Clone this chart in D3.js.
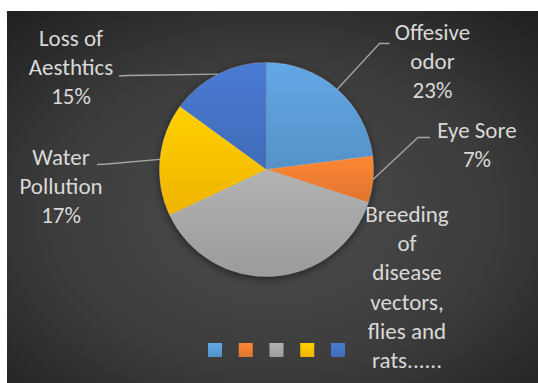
<!DOCTYPE html>
<html>
<head>
<meta charset="utf-8">
<script src="https://cdn.jsdelivr.net/npm/d3@7"></script>
<style>
  html, body { margin: 0; padding: 0; background: #ffffff; }
  svg { display: block; }
</style>
</head>
<body>
<svg id="chart" width="538" height="383"></svg>
<script>
// ---- data ----
const categories = ["Offesive odor", "Eye Sore", "Breeding of disease vectors, flies and rats......", "Water Pollution", "Loss of Aesthtics"];
const values = [23, 7, 38, 17, 15];
const colors = ["#5B9BD5", "#ED7D31", "#A5A5A5", "#FFC000", "#4472C4"];

// ---- layout (positions/sizes only) ----
const W = 538, H = 383;
const frame = { x: 7, y: 11 };
const cx = 266.5, cy = 169.5, R = 107;
const fontSize = 23, lineH = 29.2;
// label anchor = centre x / first baseline, relative to pie centre; words per line; leader end offsets from anchor
const labelLayout = [
  { dx: 166, dy: -129.5, wrap: [1, 1], pct: true, leader: [[-53, 3.5], [-43, 3.5]] },
  { dx: 210.5, dy: -31.5, wrap: [2], pct: true, leader: [[-59, -0.5], [-47, -0.5]] },
  { dx: 140.5, dy: 52.5, wrap: [1, 1, 1, 1, 2, 1], pct: false, leader: null },
  { dx: -205.5, dy: -4.5, wrap: [1, 1], pct: true, leader: [[46, -1], [36, -0.5]] },
  { dx: -195.5, dy: -123.5, wrap: [2, 1], pct: true, leader: [[57, 29.5], [48, 30]] }
];

const svg = d3.select("#chart");
const defs = svg.append("defs");

// background radial gradient
const bg = defs.append("radialGradient").attr("id", "bg")
  .attr("cx", "50%").attr("cy", "55%").attr("r", "75%");
bg.append("stop").attr("offset", "0%").attr("stop-color", "#4d4d4d");
bg.append("stop").attr("offset", "55%").attr("stop-color", "#3c3c3c");
bg.append("stop").attr("offset", "100%").attr("stop-color", "#1f1f1f");

svg.append("rect").attr("x", frame.x).attr("y", frame.y)
  .attr("width", W - frame.x).attr("height", H - frame.y)
  .attr("fill", "url(#bg)");

// slice gradients
colors.forEach((c, i) => {
  const g = defs.append("linearGradient").attr("id", "g" + i)
    .attr("x1", 0).attr("y1", 0).attr("x2", 0).attr("y2", 1);
  g.append("stop").attr("offset", "0%").attr("stop-color", d3.color(c).brighter(0.22));
  g.append("stop").attr("offset", "100%").attr("stop-color", d3.color(c).darker(0.18));
});

const sh = defs.append("filter").attr("id", "shadow")
  .attr("x", "-20%").attr("y", "-20%").attr("width", "140%").attr("height", "140%");
sh.append("feDropShadow").attr("dx", 0).attr("dy", 2).attr("stdDeviation", 4)
  .attr("flood-color", "#000").attr("flood-opacity", 0.55);

const total = d3.sum(values);
const pct = d3.format(".0%");
const pie = d3.pie().sort(null).value(d => d)(values);
const arc = d3.arc().innerRadius(0).outerRadius(R);
const edge = d3.arc().innerRadius(R).outerRadius(R);

const g = svg.append("g").attr("transform", `translate(${cx},${cy})`);
g.append("g").attr("filter", "url(#shadow)")
  .selectAll("path").data(pie).join("path")
  .attr("d", arc)
  .attr("fill", (d, i) => `url(#g${i})`)
  .attr("stroke", "rgba(255,255,255,0.25)")
  .attr("stroke-width", 0.6);

// leader lines
pie.forEach((d, i) => {
  const L = labelLayout[i];
  if (!L.leader) return;
  const s = edge.centroid(d);
  const pts = [s].concat(L.leader.map(p => [L.dx + p[0], L.dy + p[1]]));
  g.append("path").attr("d", d3.line()(pts))
    .attr("fill", "none").attr("stroke", "#a6a6a6").attr("stroke-width", 1.3);
});

// labels
pie.forEach((d, i) => {
  const L = labelLayout[i];
  const words = categories[i].split(" ");
  const lines = [];
  let k = 0;
  L.wrap.forEach(n => { lines.push(words.slice(k, k + n).join(" ")); k += n; });
  if (L.pct) lines.push(pct(values[i] / total));
  const t = g.append("text")
    .attr("x", L.dx).attr("y", L.dy)
    .attr("text-anchor", "middle")
    .attr("font-family", "Carlito, Lato, 'Open Sans', sans-serif")
    .attr("font-size", fontSize)
    .attr("fill", "#d9d9d9");
  lines.forEach((ln, j) => {
    t.append("tspan").attr("x", L.dx).attr("y", L.dy + j * lineH).text(ln);
  });
});

// legend (swatches only)
const lx = d3.scalePoint().domain(categories).range([215, 338]);
svg.append("g").selectAll("rect").data(categories).join("rect")
  .attr("x", d => lx(d) - 7).attr("y", 343)
  .attr("width", 14).attr("height", 14)
  .attr("fill", (d, i) => `url(#g${i})`);
</script>
</body>
</html>
